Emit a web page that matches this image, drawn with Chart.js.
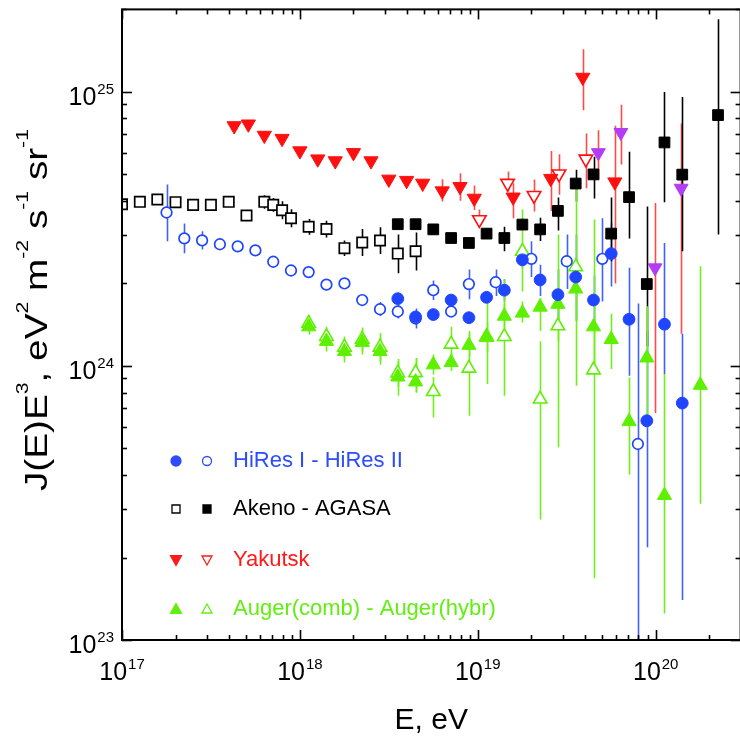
<!DOCTYPE html>
<html><head><meta charset="utf-8">
<script src="https://cdn.jsdelivr.net/npm/chart.js@4.4.1/dist/chart.umd.min.js"></script>
<style>
html,body{margin:0;padding:0;background:#fff;overflow:hidden;}
#c{display:block;}
</style></head><body>
<canvas id="c" width="750" height="736"></canvas>
<script>
// J(E)E^3 values are in units of 1e24 eV^2 m^-2 s^-1 sr^-1, E in eV
const J_UNIT = 1e24;

// HiRes I (filled circles)
const hiresI_E  = [3.55e18,4.47e18,5.62e18,7.08e18,8.91e18,1.12e19,1.41e19,1.78e19,2.24e19,2.82e19,3.55e19,4.47e19,5.62e19,7.08e19,8.91e19,1.12e20,1.41e20];
const hiresI_J  = [1.76,1.51,1.54,1.74,1.50,1.78,1.89,2.44,2.06,1.82,2.11,1.74,2.57,1.48,0.631,1.42,0.732];
const hiresI_lo = [1.70,1.46,1.49,1.68,1.45,1.71,1.72,2.28,1.80,1.48,1.46,1.41,1.95,0.92,0.218,0.935,0.140];
const hiresI_hi = [1.82,1.56,1.59,1.80,1.55,1.85,2.07,2.61,2.34,2.25,3.02,2.14,3.32,2.28,1.34,2.81,1.31];

// HiRes II (open circles)
const hiresII_E  = [1.78e17,2.24e17,2.82e17,3.55e17,4.47e17,5.62e17,7.08e17,8.91e17,1.12e18,1.41e18,1.78e18,2.24e18,2.82e18,3.55e18,4.47e18,5.62e18,7.08e18,8.91e18,1.26e19,2.0e19,3.16e19,5.01e19,7.94e19];
const hiresII_J  = [3.63,2.92,2.87,2.78,2.73,2.64,2.40,2.23,2.20,1.98,2.00,1.74,1.61,1.58,1.49,1.89,1.58,1.99,2.02,2.46,2.41,2.46,0.519];
const hiresII_lo = [2.85,2.58,2.66,2.69,2.66,2.58,2.34,2.16,2.13,1.91,1.93,1.66,1.52,1.49,1.37,1.74,1.51,1.75,1.80,2.11,1.91,1.72,0.05];
const hiresII_hi = [4.59,3.31,3.10,2.87,2.80,2.71,2.46,2.31,2.27,2.05,2.07,1.83,1.71,1.67,1.62,2.05,1.65,2.25,2.25,2.85,3.02,3.46,1.69];

// Akeno (open squares)
const akeno_E  = [1.00e17,1.26e17,1.58e17,2.00e17,2.51e17,3.16e17,3.98e17,5.01e17,6.31e17,7.08e17,7.94e17,8.91e17,1.12e18,1.41e18,1.78e18,2.24e18,2.82e18,3.55e18,4.47e18];
const akeno_J  = [3.89,3.97,4.05,3.96,3.87,3.87,3.97,3.54,3.97,3.87,3.70,3.46,3.22,3.16,2.69,2.82,2.87,2.57,2.62];
const akeno_lo = [3.73,3.81,3.88,3.80,3.71,3.71,3.81,3.39,3.75,3.65,3.43,3.21,3.01,2.94,2.52,2.52,2.56,2.18,2.23];
const akeno_hi = [4.06,4.14,4.22,4.13,4.04,4.04,4.14,3.69,4.20,4.10,3.99,3.73,3.44,3.39,2.87,3.16,3.21,3.02,3.07];

// AGASA (filled squares)
const agasa_E  = [3.55e18,4.47e18,5.62e18,7.08e18,8.91e18,1.12e19,1.41e19,1.78e19,2.24e19,2.82e19,3.55e19,4.47e19,5.62e19,7.08e19,8.91e19,1.12e20,1.41e20,2.24e20];
const agasa_J  = [3.29,3.29,3.15,2.93,2.81,3.04,2.93,3.28,3.15,3.68,4.63,5.00,3.04,4.13,1.99,6.54,4.99,8.23];
const agasa_lo = [3.18,3.18,3.05,2.83,2.72,2.93,2.62,3.12,2.86,3.12,3.98,4.08,2.41,2.92,1.18,3.96,2.62,3.02];
const agasa_hi = [3.40,3.40,3.26,3.03,2.91,3.15,3.22,3.45,3.47,4.12,5.20,5.80,4.12,6.05,3.82,10.0,9.59,18.4];

// Yakutsk (filled down triangles)
const yak_E  = [4.27e17,5.13e17,6.31e17,7.94e17,1.00e18,1.26e18,1.58e18,2.00e18,2.51e18,3.16e18,3.98e18,4.90e18,6.31e18,7.94e18,9.55e18,1.58e19,2.57e19,3.89e19,5.89e19];
const yak_J  = [7.52,7.63,6.94,6.76,6.09,5.69,5.60,6.00,5.60,4.80,4.75,4.64,4.35,4.51,4.09,4.13,4.83,11.3,4.69];
const yak_lo = [7.27,7.38,6.71,6.54,5.89,5.50,5.42,5.80,5.42,4.64,4.59,4.49,3.98,4.01,3.71,3.46,3.68,8.58,2.00];
const yak_hi = [7.78,7.89,7.18,6.99,6.30,5.88,5.79,6.20,5.79,4.96,4.91,4.80,4.80,5.05,4.55,4.64,6.09,14.3,7.52];

// Yakutsk (open down triangles)
const yakO_E  = [1.02e19,1.47e19,2.07e19,2.86e19,4.05e19];
const yakO_J  = [3.42,4.64,4.19,5.02,5.69];
const yakO_lo = [3.23,4.33,3.66,4.21,4.45];
const yakO_hi = [3.72,5.12,4.79,5.92,7.05];

// Yakutsk highest-energy points (purple down triangles)
const yakP_E  = [4.76e19,6.37e19,9.91e19,1.39e20];
const yakP_J  = [6.00,7.11,2.28,4.45];
const yakP_lo = [4.77,5.43,0.673,1.31];
const yakP_hi = [7.25,8.97,3.93,7.67];

// Auger combined (filled up triangles)
const augC_E  = [1.12e18,1.41e18,1.78e18,2.24e18,2.82e18,3.55e18,4.47e18,5.62e18,7.08e18,8.91e18,1.12e19,1.41e19,1.78e19,2.24e19,2.82e19,3.55e19,4.47e19,5.62e19,7.08e19,8.91e19,1.12e20,1.78e20];
const augC_J  = [1.39,1.23,1.13,1.22,1.13,0.912,0.875,1.01,1.03,1.19,1.27,1.52,1.56,1.64,1.68,1.91,1.39,1.25,0.627,1.07,0.337,0.851];
const augC_lo = [1.30,1.13,1.03,1.10,1.01,0.778,0.800,0.93,0.959,1.08,1.12,1.38,1.44,1.34,1.23,0.846,0.967,0.975,0.402,0.597,0.125,0.314];
const augC_hi = [1.49,1.34,1.24,1.35,1.27,1.04,1.07,1.10,1.12,1.31,1.44,1.68,1.72,1.77,3.02,2.31,3.42,1.55,0.907,1.65,0.935,2.31];

// Auger hybrid (open up triangles)
const augH_E  = [1.12e18,1.41e18,1.78e18,2.24e18,2.82e18,3.55e18,4.47e18,5.62e18,7.08e18,8.91e18,1.12e19,1.41e19,1.78e19,2.24e19,2.82e19,3.55e19,4.47e19];
const augH_J  = [1.43,1.28,1.17,1.25,1.17,0.943,0.945,0.806,1.20,0.981,1.28,1.28,2.62,0.757,1.40,2.30,0.967];
const augH_lo = [1.34,1.18,1.07,1.13,1.04,0.84,0.80,0.649,1.09,0.658,0.860,0.778,1.87,0.275,0.505,1.46,0.168];
const augH_hi = [1.53,1.39,1.28,1.38,1.32,1.06,1.07,0.912,1.39,1.34,1.77,2.07,3.72,1.23,1.87,4.60,1.34];

// axis ticks
const xDecades = [17,18,19,20];
const yDecades = [23,24,25];
const xMin = 1e17, xMax = 3e20, yMin = 1e23, yMax = 2e25;

// legend entries
const legendTexts = ['HiRes I - HiRes II','Akeno - AGASA','Yakutsk','Auger(comb) - Auger(hybr)'];

const FONT = '"Liberation Sans", Arial, Helvetica, sans-serif';
const BLUE = '#1f45ff', BLACK = '#000', RED = '#ff1010', GREEN = '#5ef000', PURPLE = '#b33cf5';
const BLUE_E = '#3f62ff', RED_E = '#ff4a4a', GREEN_E = '#6ff01a';

const SERIES = [
  {E:yakP_E, J:yakP_J, lo:yakP_lo, hi:yakP_hi, err:RED_E, style:'triangle', r:8, rot:180, fill:PURPLE, stroke:PURPLE, bw:1},
  {E:hiresI_E, J:hiresI_J, lo:hiresI_lo, hi:hiresI_hi, err:BLUE_E, style:'circle', r:5.9, rot:0, fill:BLUE, stroke:BLUE, bw:1},
  {E:hiresII_E, J:hiresII_J, lo:hiresII_lo, hi:hiresII_hi, err:BLUE_E, style:'circle', r:5.3, rot:0, fill:'#fff', stroke:BLUE, bw:1.7},
  {E:agasa_E, J:agasa_J, lo:agasa_lo, hi:agasa_hi, err:BLACK, style:'rect', r:7.6, rot:0, fill:BLACK, stroke:BLACK, bw:1},
  {E:akeno_E, J:akeno_J, lo:akeno_lo, hi:akeno_hi, err:BLACK, style:'rect', r:7.3, rot:0, fill:'#fff', stroke:BLACK, bw:1.7},
  {E:yak_E, J:yak_J, lo:yak_lo, hi:yak_hi, err:RED_E, style:'triangle', r:8.2, rot:180, fill:RED, stroke:RED, bw:1},
  {E:yakO_E, J:yakO_J, lo:yakO_lo, hi:yakO_hi, err:RED_E, style:'triangle', r:7.8, rot:180, fill:'#fff', stroke:RED, bw:1.6},
  {E:augC_E, J:augC_J, lo:augC_lo, hi:augC_hi, err:GREEN_E, style:'triangle', r:8.2, rot:0, fill:GREEN, stroke:GREEN, bw:1},
  {E:augH_E, J:augH_J, lo:augH_lo, hi:augH_hi, err:GREEN_E, style:'triangle', r:7.8, rot:0, fill:'#fff', stroke:GREEN, bw:1.6},
];

const datasets = SERIES.map(s => ({
  data: s.E.map((e,i) => ({x:e, y:s.J[i]*J_UNIT})),
  showLine:false,
  pointStyle:s.style, pointRadius:s.r, pointHoverRadius:s.r, pointRotation:s.rot,
  pointBackgroundColor:s.fill, pointBorderColor:s.stroke, pointBorderWidth:s.bw,
  clip:0
}));

const errPlugin = {
  id:'errbars',
  beforeDatasetsDraw(chart){
    const {ctx, chartArea:a, scales:{x,y}} = chart;
    ctx.save();
    ctx.beginPath(); ctx.rect(a.left,a.top,a.right-a.left,a.bottom-a.top); ctx.clip();
    ctx.lineWidth = 1.6;
    SERIES.forEach(s => {
      ctx.strokeStyle = s.err;
      s.E.forEach((e,i) => {
        const px = Math.round(x.getPixelForValue(e)) + 0.5;
        ctx.beginPath();
        ctx.moveTo(px, y.getPixelForValue(s.hi[i]*J_UNIT));
        ctx.lineTo(px, y.getPixelForValue(s.lo[i]*J_UNIT));
        ctx.stroke();
      });
    });
    ctx.restore();
  }
};

function drawPow(ctx, exp, x, y, align){
  ctx.save();
  ctx.fillStyle = '#000';
  ctx.textBaseline = 'alphabetic';
  ctx.textAlign = 'left';
  ctx.font = '25px ' + FONT;
  const w1 = ctx.measureText('10').width;
  ctx.font = '15px ' + FONT;
  const w2 = ctx.measureText(String(exp)).width;
  const tot = w1 + w2 + 1;
  let left = align === 'right' ? x - tot : x - tot/2;
  ctx.font = '25px ' + FONT;
  ctx.fillText('10', left, y);
  ctx.font = '15px ' + FONT;
  ctx.fillText(String(exp), left + w1 + 1, y - 11);
  ctx.restore();
}

function marker(ctx, type, x, y, size, filled, color){
  ctx.save();
  ctx.fillStyle = filled ? color : '#fff';
  ctx.strokeStyle = color; ctx.lineWidth = 1.3;
  ctx.beginPath();
  if (type === 'circle') ctx.arc(x, y, size/2, 0, Math.PI*2);
  else if (type === 'rect') ctx.rect(x-size/2, y-size/2, size, size);
  else if (type === 'down') { ctx.moveTo(x-size/2, y-size*0.4); ctx.lineTo(x+size/2, y-size*0.4); ctx.lineTo(x, y+size*0.5); ctx.closePath(); }
  else if (type === 'up') { ctx.moveTo(x-size/2, y+size*0.4); ctx.lineTo(x+size/2, y+size*0.4); ctx.lineTo(x, y-size*0.5); ctx.closePath(); }
  ctx.fill(); ctx.stroke();
  ctx.restore();
}

const framePlugin = {
  id:'frame',
  afterDraw(chart){
    const {ctx, chartArea:a, scales:{x,y}} = chart;
    ctx.save();
    ctx.strokeStyle = '#000';
    // ticks
    ctx.lineWidth = 1.6;
    const xt = [];
    for (let d = 17; d <= 20; d++) for (let m = 1; m <= 9; m++) { const v = m*Math.pow(10,d); if (v >= xMin && v <= xMax) xt.push([v, m===1]); }
    xt.forEach(([v,maj]) => {
      const px = Math.round(x.getPixelForValue(v)) + 0.5, L = maj ? 10 : 5;
      ctx.beginPath(); ctx.moveTo(px, a.bottom); ctx.lineTo(px, a.bottom - L); ctx.stroke();
      ctx.beginPath(); ctx.moveTo(px, a.top); ctx.lineTo(px, a.top + L); ctx.stroke();
    });
    const yt = [];
    for (let d = 23; d <= 25; d++) for (let m = 1; m <= 9; m++) { const v = m*Math.pow(10,d); if (v >= yMin && v <= yMax) yt.push([v, m===1]); }
    yt.forEach(([v,maj]) => {
      const py = Math.round(y.getPixelForValue(v)) + 0.5, L = maj ? 10 : 5;
      ctx.beginPath(); ctx.moveTo(a.left, py); ctx.lineTo(a.left + L, py); ctx.stroke();
      ctx.beginPath(); ctx.moveTo(a.right, py); ctx.lineTo(a.right - L, py); ctx.stroke();
    });
    // frame
    ctx.lineWidth = 2;
    ctx.strokeRect(a.left, a.top, a.right - a.left, a.bottom - a.top);
    // tick labels
    xDecades.forEach(d => drawPow(ctx, d, x.getPixelForValue(Math.pow(10,d)), a.bottom + 40, 'center'));
    yDecades.forEach(d => drawPow(ctx, d, a.left - 8, y.getPixelForValue(Math.pow(10,d)) + 13, 'right'));
    // x title
    ctx.fillStyle = '#000';
    ctx.font = '30px ' + FONT;
    ctx.textAlign = 'center'; ctx.textBaseline = 'alphabetic';
    ctx.fillText('E, eV', (a.left + a.right)/2, 729);
    // y title (rotated)
    const segs = [['J(E)E',0],['3',1],[', eV',0],['2',1],[' m',0],['-2',1],[' s',0],['-1',1],[' sr',0],['-1',1]];
    const fN = '31px ' + FONT, fS = '17px ' + FONT;
    let W = 0;
    segs.forEach(([t,s]) => { ctx.font = s ? fS : fN; W += ctx.measureText(t).width; });
    const target = 362, sx = target / W;
    ctx.save();
    ctx.translate(47, 310);
    ctx.rotate(-Math.PI/2);
    ctx.scale(sx, 1);
    ctx.textAlign = 'left';
    let cx = -W/2;
    segs.forEach(([t,s]) => {
      ctx.font = s ? fS : fN;
      ctx.fillText(t, cx, s ? -19 : 0);
      cx += ctx.measureText(t).width;
    });
    ctx.restore();
    // legend
    const rows = [
      {y:467, col:'#2b4cff', m:[['circle',10,true],['circle',9,false]]},
      {y:515, col:'#000', m:[['rect',8,false],['rect',8,true]]},
      {y:566, col:'#ff1a1a', m:[['down',11,true],['down',10,false]]},
      {y:615, col:'#62ee10', m:[['up',11,true],['up',10,false]]},
    ];
    rows.forEach((r,i) => {
      marker(ctx, r.m[0][0], 176, r.y - 6, r.m[0][1], r.m[0][2], r.col);
      marker(ctx, r.m[1][0], 207, r.y - 6, r.m[1][1], r.m[1][2], r.col);
      ctx.fillStyle = r.col;
      ctx.font = '22px ' + FONT;
      ctx.textAlign = 'left'; ctx.textBaseline = 'alphabetic';
      ctx.fillText(legendTexts[i], 233, r.y);
    });
    ctx.restore();
  }
};

new Chart(document.getElementById('c'), {
  type:'scatter',
  data:{datasets},
  options:{
    responsive:false, animation:false, devicePixelRatio:1,
    layout:{padding:{top:7,right:3,left:0,bottom:0}},
    plugins:{legend:{display:false}, tooltip:{enabled:false}},
    events:[],
    scales:{
      x:{type:'logarithmic', min:xMin, max:xMax, ticks:{display:false}, grid:{display:false}, border:{display:false},
         afterFit(s){ s.height = 96; }},
      y:{type:'logarithmic', min:yMin, max:yMax, ticks:{display:false}, grid:{display:false}, border:{display:false},
         afterFit(s){ s.width = 122; }}
    }
  },
  plugins:[errPlugin, framePlugin]
});
</script>
</body></html>
